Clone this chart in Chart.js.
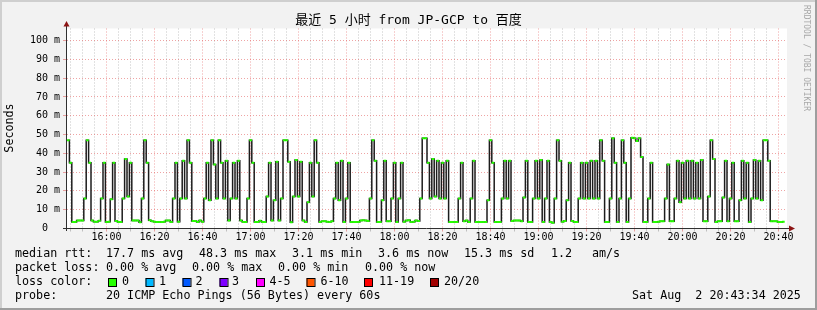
<!DOCTYPE html>
<html>
<head>
<meta charset="utf-8">
<script src="https://cdn.jsdelivr.net/npm/chart.js@4.4.1/dist/chart.umd.min.js"></script>
<style>
  html, body { margin: 0; padding: 0; background: #f2f2f2; }
  canvas { display: block; }
</style>
</head>
<body>
<canvas id="chart" width="817" height="310"></canvas>
<script>
// SmokePing median rtt, one sample per minute starting at startTime (ms)
const startTime = '15:43:34';
const endStamp = 'Sat Aug  2 20:43:34 2025';
const timeLabels = ['16:00', '16:20', '16:40', '17:00', '17:20', '17:40', '18:00', '18:20',
    '18:40', '19:00', '19:20', '19:40', '20:00', '20:20', '20:40'];
const yLabels = [10, 20, 30, 40, 50, 60, 70, 80, 90, 100];

const rttValues = [
    47, 35, 3.5, 3.4, 4.2, 4.3, 4.2, 16, 47, 35, 4.2, 3.6, 3.6, 4.1, 16, 35, 3.5, 3.6, 15.5, 35,
    4.0, 3.4, 3.5, 16, 37, 17, 35, 4.2, 4.3, 4.2, 3.3, 16, 47, 35, 4.4, 3.8, 3.6, 3.5, 3.5, 3.5,
    3.6, 4.3, 4.2, 3.5, 16, 35, 3.6, 16, 36, 16, 47, 35, 4.0, 4.0, 3.5, 4.3, 3.6, 16, 35, 15,
    47, 34, 16, 47, 35, 16, 36, 4.3, 16, 35, 16, 36, 4.3, 3.5, 3.4, 16, 47, 35, 3.4, 3.4,
    4.1, 3.4, 3.4, 17, 35, 4.3, 15, 35.5, 4.3, 16, 47, 47, 35.5, 3.3, 17, 36.5, 17, 35.5, 4.3, 3.5,
    14, 35, 17, 47, 35, 3.4, 3.8, 3.8, 3.6, 3.4, 3.8, 16, 35, 15, 36, 3.5, 16, 35, 3.4, 3.4,
    3.5, 3.4, 4.2, 4.4, 4.3, 4.0, 16, 47, 36, 3.4, 3.4, 15, 36, 3.8, 3.8, 16, 35, 3.4, 16, 35,
    3.6, 4.3, 4.4, 3.4, 3.6, 4.2, 4.0, 16, 48, 48, 35, 16, 37, 17, 36, 16, 35, 16, 36, 3.4,
    3.4, 3.4, 3.5, 16, 35, 3.8, 4.3, 3.4, 16, 36, 3.4, 3.4, 3.4, 3.4, 3.4, 15, 47, 35, 3.4, 3.4,
    3.4, 16, 36, 16, 36, 4.0, 4.2, 4.2, 4.2, 3.8, 16.5, 36, 3.4, 3.4, 16, 36, 16, 36.5, 3.4, 16,
    36, 3.4, 3.1, 16, 47, 36, 3.6, 4.0, 15, 35, 4.0, 3.4, 3.4, 16, 35, 16, 35, 16, 36, 16,
    36, 16, 47, 36, 3.4, 3.4, 16, 48, 35, 3.4, 16, 47, 35, 3.4, 16, 48.3, 48, 46.5, 48, 38,
    3.4, 3.4, 16, 35, 3.4, 3.4, 3.6, 3.8, 3.8, 16, 34, 3.8, 3.8, 16, 36, 14, 35, 16, 36, 16,
    36, 16, 35, 16, 36.5, 3.8, 3.8, 17, 47, 37, 3.4, 3.8, 3.8, 16.5, 36, 3.8, 16, 35, 3.8, 3.8,
    15, 36, 16, 35, 3.4, 16, 36.5, 16, 36, 15, 47, 47, 36, 3.8, 3.8, 3.8, 3.4, 3.4, 3.6
];

const rttStats = ['17.7 ms avg', '48.3 ms max', '3.1 ms min', '3.6 ms now', '15.3 ms sd', '1.2', 'am/s'];
const lossStats = ['0.00 % avg', '0.00 % max', '0.00 % min', '0.00 % now'];
const lossLabels = ['0', '1', '2', '3', '4-5', '6-10', '11-19', '20/20'];
const lossColors = ['#26ff00', '#00b8ff', '#0059ff', '#7e00ff', '#ff00ff', '#ff5500', '#ff0000', '#a10000'];
const probeText = '20 ICMP Echo Pings (56 Bytes) every 60s';
const titleText = '最近 5 小时 from JP-GCP to 百度';

const MONO = '"DejaVu Sans Mono", "Noto Sans CJK SC", monospace';
const GRID_MINOR = 'rgba(150,150,150,0.55)';
const GRID_MAJOR = 'rgba(225,90,90,0.55)';

function toMinutes(s) {
    const p = s.split(':').map(Number);
    return p[0] * 60 + p[1] + (p[2] || 0) / 60;
}

const startMin = toMinutes(startTime);
const majorOffsets = timeLabels.map(t => toMinutes(t) - startMin);
// minor grid every 5 minutes
const tickOffsets = [];
for (let m = Math.ceil(startMin / 5) * 5; m - startMin <= 300; m += 5) tickOffsets.push(m - startMin);

function majorLabel(v) {
    const i = majorOffsets.findIndex(o => Math.abs(o - v) < 1e-6);
    return i >= 0 ? timeLabels[i] : '';
}

const points = rttValues.map((v, i) => ({ x: i + 0.5, y: v }));

const framePlugin = {
    id: 'frame',
    beforeDraw(chart) {
        const ctx = chart.ctx, a = chart.chartArea;
        ctx.save();
        ctx.fillStyle = '#f2f2f2';
        ctx.fillRect(0, 0, 817, 310);
        ctx.fillStyle = '#cfcfcf';
        ctx.fillRect(0, 0, 817, 2);
        ctx.fillRect(0, 0, 2, 310);
        ctx.fillStyle = '#9e9e9e';
        ctx.fillRect(0, 308, 817, 2);
        ctx.fillRect(815, 0, 2, 310);
        ctx.fillStyle = '#ffffff';
        ctx.fillRect(a.left, a.top, a.right - a.left, a.bottom - a.top);
        ctx.restore();
    },
    afterDraw(chart) {
        const ctx = chart.ctx, a = chart.chartArea;
        ctx.save();
        // axes with arrows
        ctx.strokeStyle = '#303030';
        ctx.lineWidth = 1;
        ctx.beginPath();
        ctx.moveTo(66.5, 24);
        ctx.lineTo(66.5, 231);
        ctx.moveTo(63, 228.5);
        ctx.lineTo(790, 228.5);
        ctx.stroke();
        ctx.fillStyle = '#8c1414';
        ctx.beginPath();
        ctx.moveTo(63.5, 26.5);
        ctx.lineTo(69.5, 26.5);
        ctx.lineTo(66.5, 21);
        ctx.closePath();
        ctx.fill();
        ctx.beginPath();
        ctx.moveTo(789, 225.5);
        ctx.lineTo(789, 231.5);
        ctx.lineTo(795, 228.5);
        ctx.closePath();
        ctx.fill();

        ctx.fillStyle = '#000';
        ctx.textBaseline = 'middle';
        // title
        ctx.font = '13px ' + MONO;
        ctx.textAlign = 'center';
        ctx.fillText(titleText, 408.5, 21);

        // y axis label
        ctx.font = '11.7px ' + MONO;
        ctx.save();
        ctx.translate(10, 128);
        ctx.rotate(-Math.PI / 2);
        ctx.fillText('Seconds', 0, 0);
        ctx.restore();

        // rrdtool credit
        ctx.save();
        ctx.fillStyle = '#a8a8a8';
        ctx.font = '8px ' + MONO;
        ctx.translate(806.5, 5);
        ctx.rotate(Math.PI / 2);
        ctx.textAlign = 'left';
        ctx.fillText('RRDTOOL / TOBI OETIKER', 0, 0);
        ctx.restore();

        // legend lines
        ctx.textAlign = 'left';
        ctx.font = '11.7px ' + MONO;
        const put = (t, x, y) => ctx.fillText(t, x - 1, y);

        put('median rtt:', 16, 254);
        [107, 200, 293, 379, 465, 552, 593].forEach((x, i) => put(rttStats[i], x, 254));

        put('packet loss:', 16, 268);
        [107, 193, 279, 366].forEach((x, i) => put(lossStats[i], x, 268));

        put('loss color:', 16, 282);
        const boxX = [108, 145.5, 182.5, 219.5, 256, 306.5, 364, 430];
        const labX = [123, 160, 196.5, 233, 270.5, 321.5, 380, 445];
        lossLabels.forEach((l, i) => {
            ctx.fillStyle = lossColors[i];
            ctx.fillRect(boxX[i], 278, 8, 8);
            ctx.strokeStyle = '#000';
            ctx.strokeRect(boxX[i] + 0.5, 278.5, 8, 8);
            ctx.fillStyle = '#000';
            put(l, labX[i], 282);
        });

        put('probe:', 16, 296);
        put(probeText, 107, 296);
        put(endStamp, 633, 296);
        ctx.restore();
    }
};

new Chart(document.getElementById('chart'), {
    type: 'line',
    data: {
        datasets: [{
            data: points,
            stepped: 'middle',
            borderColor: '#1c1c1c',
            borderWidth: 1.5,
            pointStyle: 'line',
            pointRadius: 1.3,
            pointBorderWidth: 2,
            pointBorderColor: lossColors[0],
            pointBackgroundColor: lossColors[0],
            fill: false
        }]
    },
    options: {
        responsive: false,
        animation: false,
        devicePixelRatio: 1,
        layout: { padding: { left: 0, top: 28.5, right: 30, bottom: 0 } },
        plugins: { legend: { display: false }, tooltip: { enabled: false } },
        scales: {
            x: {
                type: 'linear',
                min: 0,
                max: 300,
                afterBuildTicks: scale => { scale.ticks = tickOffsets.map(v => ({ value: v })); },
                afterFit: scale => { scale.height = 310 - 228.5; },
                border: { display: false, dash: [1, 2] },
                grid: {
                    color: c => majorLabel(c.tick.value) ? GRID_MAJOR : GRID_MINOR,
                    tickLength: 3,
                    lineWidth: 1
                },
                ticks: {
                    autoSkip: false,
                    maxRotation: 0,
                    padding: 0,
                    color: '#000',
                    font: { family: MONO, size: 10 },
                    callback: v => majorLabel(v)
                }
            },
            y: {
                min: 0,
                max: 106.4,
                afterFit: scale => { scale.width = 67; },
                border: { display: false, dash: [1, 2] },
                grid: {
                    color: c => (c.tick.value % 10 === 0) ? GRID_MAJOR : GRID_MINOR,
                    tickLength: 4,
                    lineWidth: 1
                },
                ticks: {
                    stepSize: 5,
                    includeBounds: false,
                    padding: 3,
                    color: '#000',
                    font: { family: MONO, size: 10 },
                    callback: v => {
                        if (v === 0) return '0  ';
                        return yLabels.includes(v) ? v + ' m' : '';
                    }
                }
            }
        }
    },
    plugins: [framePlugin]
});
</script>
</body>
</html>
